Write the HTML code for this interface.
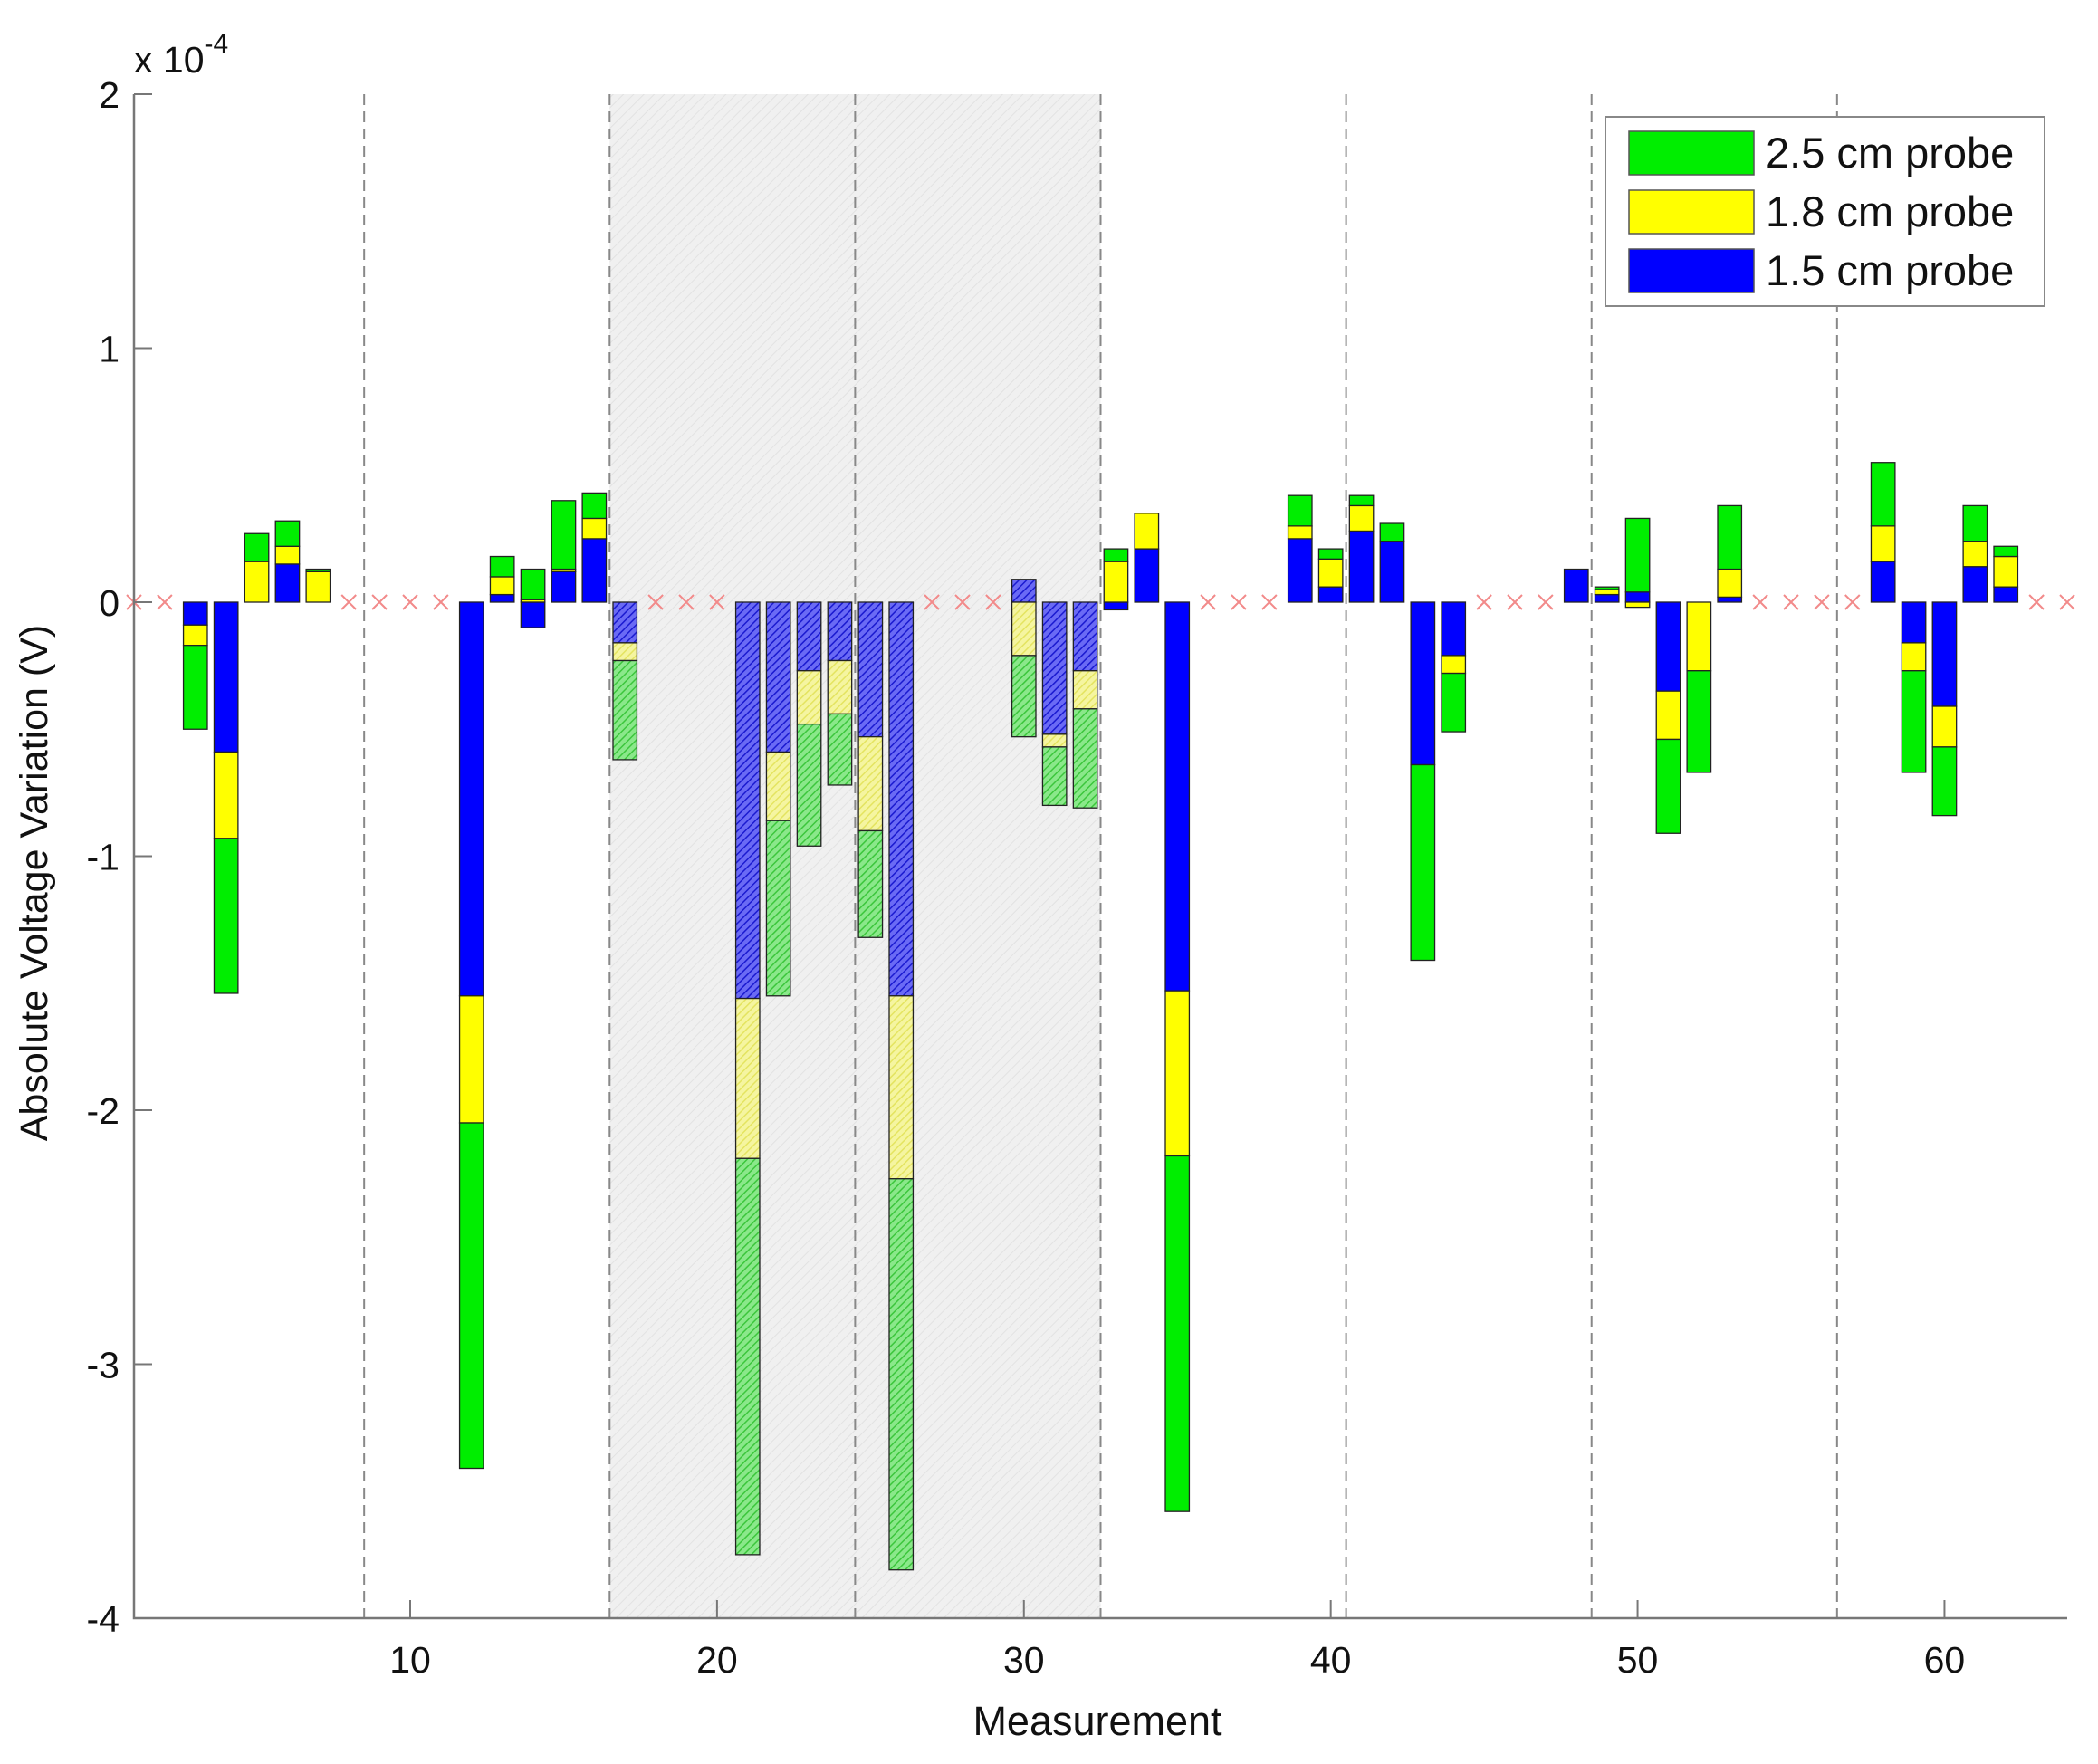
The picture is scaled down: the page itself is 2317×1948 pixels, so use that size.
<!DOCTYPE html>
<html><head><meta charset="utf-8"><style>
html,body{margin:0;padding:0;background:#fff;}
svg{display:block;font-family:"Liberation Sans",Arial,sans-serif;}
</style></head><body>
<svg id="chart" width="2317" height="1948" viewBox="0 0 2317 1948" xmlns="http://www.w3.org/2000/svg">
<defs>
<pattern id="bgHatch" patternUnits="userSpaceOnUse" width="8" height="8" patternTransform="rotate(45)">
<rect width="8" height="8" fill="#f0f0f0"/><line x1="0" y1="0" x2="0" y2="8" stroke="#e2e2e2" stroke-width="2"/>
</pattern>
<pattern id="hBlue" patternUnits="userSpaceOnUse" width="6" height="6" patternTransform="rotate(45)">
<rect width="6" height="6" fill="#6a6af5"/><line x1="0" y1="0" x2="0" y2="6" stroke="#1a1ad0" stroke-width="3"/>
</pattern>
<pattern id="hYellow" patternUnits="userSpaceOnUse" width="6" height="6" patternTransform="rotate(45)">
<rect width="6" height="6" fill="#f5f5a0"/><line x1="0" y1="0" x2="0" y2="6" stroke="#e4e460" stroke-width="3"/>
</pattern>
<pattern id="hGreen" patternUnits="userSpaceOnUse" width="6" height="6" patternTransform="rotate(45)">
<rect width="6" height="6" fill="#8ae88a"/><line x1="0" y1="0" x2="0" y2="6" stroke="#3cc63c" stroke-width="3"/>
</pattern>
</defs>
<g id="plot"></g>
</svg>
<script>
// values in units of 1e-4 V, index = measurement number - 1 (null = no data)
const blueVals = [null,null,-0.09,-0.59,0,0.15,0,null,null,null,null,-1.55,0.03,-0.10,0.12,0.25,-0.16,null,null,null,-1.56,-0.59,-0.27,-0.23,-0.53,-1.55,null,null,null,0.09,-0.52,-0.27,-0.03,0.21,-1.53,null,null,null,0.25,0.06,0.28,0.24,-0.64,-0.21,null,null,null,0.13,0.03,0.04,-0.35,0,0.02,null,null,null,null,0.16,-0.16,-0.41,0.14,0.06,null,null];
const yellowVals = [null,null,-0.08,-0.34,0.16,0.07,0.12,null,null,null,null,-0.50,0.07,0.01,0.01,0.08,-0.07,null,null,null,-0.63,-0.27,-0.21,-0.21,-0.37,-0.72,null,null,null,-0.21,-0.05,-0.15,0.16,0.14,-0.65,null,null,null,0.05,0.11,0.10,0,0,-0.07,null,null,null,0,0.02,-0.02,-0.19,-0.27,0.11,null,null,null,null,0.14,-0.11,-0.16,0.10,0.12,null,null];
const greenVals = [null,null,-0.33,-0.61,0.11,0.10,0.01,null,null,null,null,-1.36,0.08,0.12,0.27,0.10,-0.39,null,null,null,-1.56,-0.69,-0.48,-0.28,-0.42,-1.54,null,null,null,-0.32,-0.23,-0.39,0.05,0,-1.40,null,null,null,0.12,0.04,0.04,0.07,-0.77,-0.23,null,null,null,0,0.01,0.29,-0.37,-0.40,0.25,null,null,null,null,0.25,-0.40,-0.27,0.14,0.04,null,null];
const xTicks = [10,20,30,40,50,60];
const yTicks = [2,1,0,-1,-2,-3,-4];
const dividers = [8.5,16.5,24.5,32.5,40.5,48.5,56.5];
const shadeRange = [16.5,32.5];

const NS='http://www.w3.org/2000/svg';
const L=148,R=2283,T=104,B=1787;
const xMin=1,xMax=64,yMin=-4,yMax=2;
const sx=v=>L+(v-xMin)/(xMax-xMin)*(R-L);
const sy=v=>B-(v-yMin)/(yMax-yMin)*(B-T);
const g=document.getElementById('plot');
function mk(tag,attrs,parent){const e=document.createElementNS(NS,tag);for(const k in attrs)e.setAttribute(k,attrs[k]);(parent||g).appendChild(e);return e;}

let sh=mk('rect',{x:sx(shadeRange[0]),y:T,width:sx(shadeRange[1])-sx(shadeRange[0]),height:B-T,fill:'url(#bgHatch)'});



dividers.forEach(d=>{
  const l=mk('line',{x1:sx(d),x2:sx(d),y1:T,y2:B,stroke:'#888','stroke-width':2,'stroke-dasharray':'12,7'});
  
  
});

const bw=0.78*(sx(2)-sx(1));
const series=[[blueVals,'#0000ff','url(#hBlue)','blue'],[yellowVals,'#ffff00','url(#hYellow)','yellow'],[greenVals,'#00ee00','url(#hGreen)','green']];
for(let i=0;i<64;i++){
  const m=i+1;
  if(blueVals[i]===null){
    const x=sx(m),y=sy(0);
    const c=mk('path',{d:`M${x-8},${y-8}L${x+8},${y+8}M${x-8},${y+8}L${x+8},${y-8}`,stroke:'#f28a8a','stroke-width':2,fill:'none'});
    
    
    continue;
  }
  const hatched=m>shadeRange[0]&&m<shadeRange[1];
  let pos=0,neg=0;
  series.forEach(([arr,col,hcol,nm])=>{
    const v=arr[i]; if(!v) return;
    let a,b;
    if(v>0){a=pos;b=pos+v;pos=b;}else{a=neg;b=neg+v;neg=b;}
    const y1=sy(Math.max(a,b)),y2=sy(Math.min(a,b));
    const r=mk('rect',{x:sx(m)-bw/2,y:y1,width:bw,height:Math.max(y2-y1,0.5),fill:hatched?hcol:col,stroke:'#222','stroke-width':1.3});
    
    
  });
}

let ax=mk('path',{d:`M${L},${T}L${L},${B}L${R},${B}`,stroke:'#777','stroke-width':2.5,fill:'none'});


yTicks.forEach(t=>{
  mk('line',{x1:L,x2:L+20,y1:sy(t),y2:sy(t),stroke:'#777','stroke-width':2});
  const tx=mk('text',{x:132,y:sy(t)+15,'text-anchor':'end','font-size':41,fill:'#111'});
  tx.textContent=t;
  
  
});
xTicks.forEach(t=>{
  mk('line',{x1:sx(t),x2:sx(t),y1:B,y2:B-20,stroke:'#777','stroke-width':2});
  const tx=mk('text',{x:sx(t),y:1847,'text-anchor':'middle','font-size':41,fill:'#111'});
  tx.textContent=t;
  
  
});
let ex=mk('text',{x:148,y:80,'font-size':41,fill:'#111'});
ex.innerHTML='x 10<tspan dy="-22" font-size="30">-4</tspan>';


let yl=mk('text',{x:0,y:0,'text-anchor':'middle','font-size':43,fill:'#111',transform:'translate(52,975) rotate(-90)'});
yl.textContent='Absolute Voltage Variation (V)';


let xl=mk('text',{x:1212,y:1916,'text-anchor':'middle','font-size':45,fill:'#111'});
xl.textContent='Measurement';



const lg=mk('g',{});


mk('rect',{x:1773,y:129,width:485,height:209,fill:'#fff',stroke:'#888','stroke-width':2},lg);
const legItems=[['2.5 cm probe','#00ee00'],['1.8 cm probe','#ffff00'],['1.5 cm probe','#0000ff']];
legItems.forEach((it,k)=>{
  const y=145+k*65;
  const e=mk('g',{},lg);
  
  
  mk('rect',{x:1799,y:y,width:138,height:48,fill:it[1],stroke:'#555','stroke-width':1.5},e);
  const t=mk('text',{x:1950,y:y+40,'font-size':47,fill:'#111'},e);
  t.textContent=it[0];
});
</script>
</body></html>
